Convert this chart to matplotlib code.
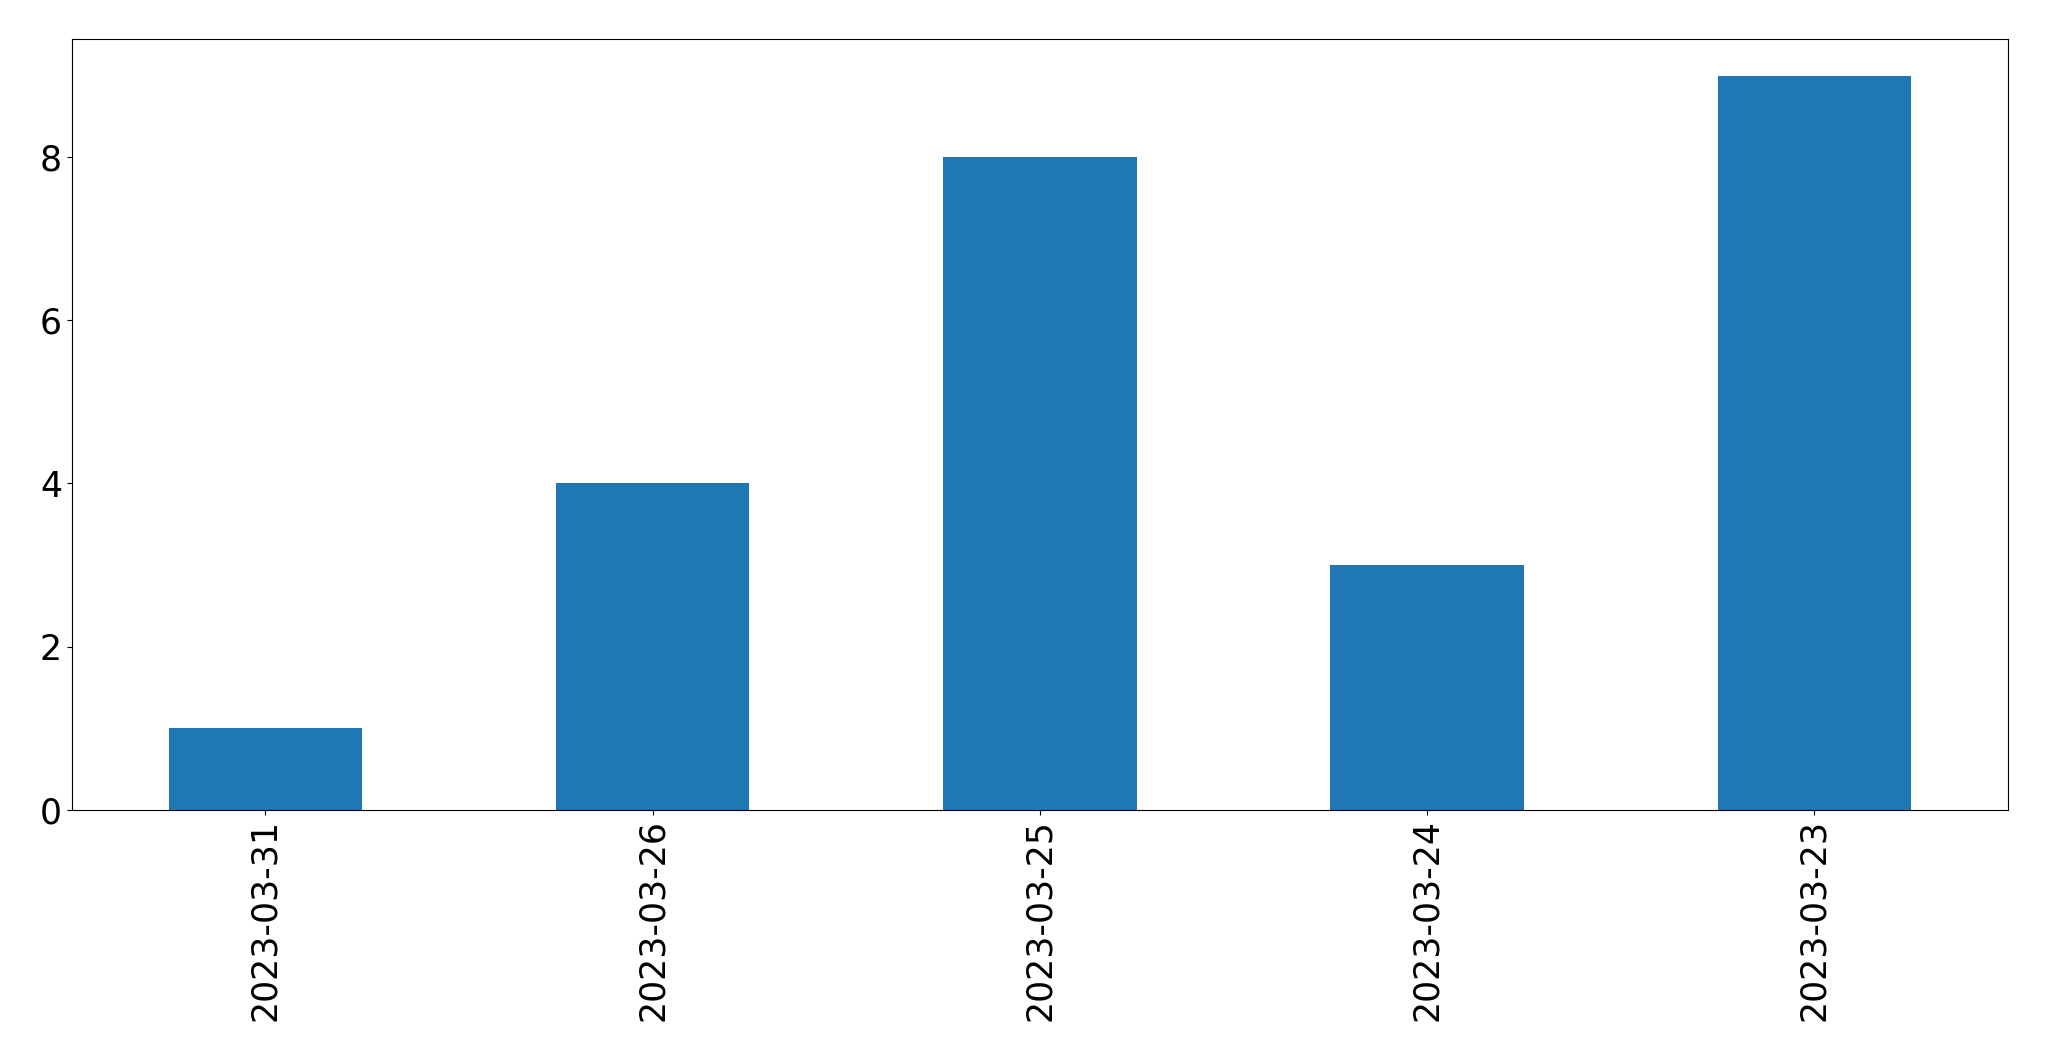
import matplotlib
matplotlib.use("Agg")
import matplotlib.pyplot as plt
import numpy as np

dates = ["2023-03-31", "2023-03-26", "2023-03-25", "2023-03-24", "2023-03-23"]
counts = [1, 4, 8, 3, 9]

fig, ax = plt.subplots(figsize=(20.49, 10.61), dpi=100)
x = np.arange(len(dates))
ax.bar(x, counts, width=0.5, color="#1f77b4")
ax.set_xticks(x)
ax.set_xticklabels(dates, rotation=90)
ax.set_xlim(-0.5, len(dates) - 0.5)
ax.tick_params(labelsize=25)
fig.subplots_adjust(left=0.035, right=0.98, top=0.963, bottom=0.237)
fig.savefig("out.png", dpi=100)
